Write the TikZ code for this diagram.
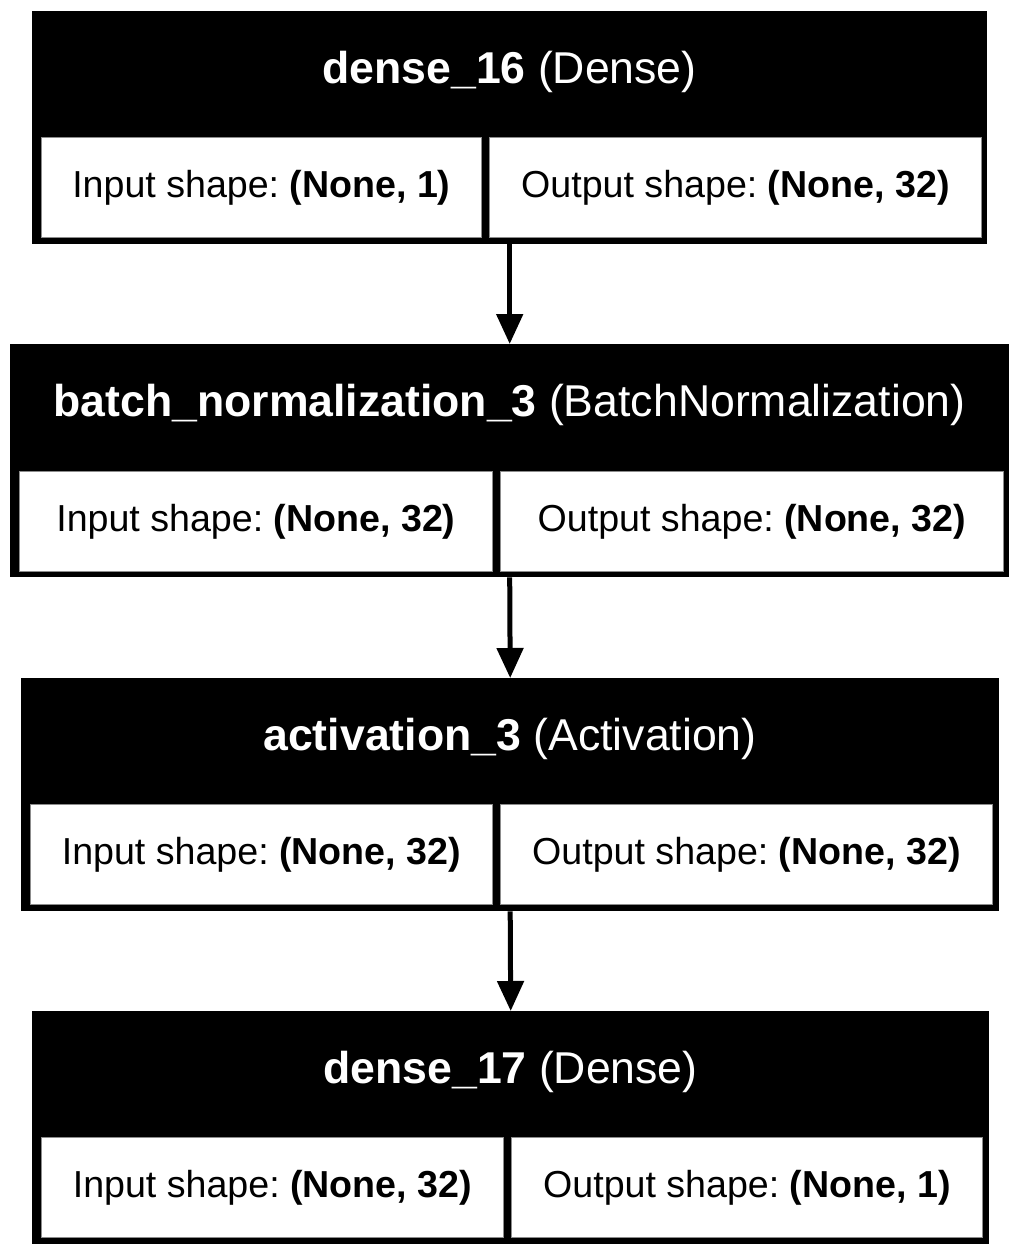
\documentclass[tikz,border=0pt]{standalone}
\usepackage{fontspec}
\setmainfont{Liberation Sans}
\usetikzlibrary{arrows.meta}
\frenchspacing
\newcommand{\layertitlefont}{\fontsize{44.6}{52}\selectfont}
\newcommand{\layercellfont}{\fontsize{37.6}{44}\selectfont}
\tikzset{
  layer/.style={rectangle, fill=black, draw=none, inner sep=0pt, anchor=north west},
  cell/.style={rectangle, fill=white, draw=black!45, line width=0.8pt, inner sep=0pt,
    anchor=north west, minimum height=100pt, font=\layercellfont},
  title/.style={text=white, anchor=base, inner sep=0pt, font=\layertitlefont},
  flow/.style={-{Triangle[length=30pt,width=26pt]}, line width=5pt}
}
\begin{document}
\begin{tikzpicture}[x=1pt, y=-1pt]
            \useasboundingbox (0,0) rectangle (1019,1256);
            % ---------- dense_16 ----------
            \node[layer, minimum width=955pt, minimum height=233pt] (dense16) at (32,11) {};
            \node[title] (dense16title) at (509.5,83) {\textbf{dense\_16} (Dense)};
            \node[cell, minimum width=440pt] (dense16in) at (41,137)
                {Input shape: \textbf{(None, 1)}};
            \node[cell, minimum width=492pt] (dense16out) at (489,137)
                {Output shape: \textbf{(None, 32)}};
            % ---------- batch_normalization_3 ----------
            \node[layer, minimum width=999pt, minimum height=233pt] (batchnorm3) at (10,344) {};
            \node[title] (batchnorm3title) at (509.5,416)
                {\textbf{batch\_normalization\_3} (BatchNormalization)};
            \node[cell, minimum width=473pt] (batchnorm3in) at (19,471)
                {Input shape: \textbf{(None, 32)}};
            \node[cell, minimum width=503pt] (batchnorm3out) at (500,471)
                {Output shape: \textbf{(None, 32)}};
            % ---------- activation_3 ----------
            \node[layer, minimum width=978pt, minimum height=233pt] (activation3) at (21,678) {};
            \node[title] (activation3title) at (510,750) {\textbf{activation\_3} (Activation)};
            \node[cell, minimum width=462pt] (activation3in) at (30,804)
                {Input shape: \textbf{(None, 32)}};
            \node[cell, minimum width=492pt] (activation3out) at (500,804)
                {Output shape: \textbf{(None, 32)}};
            % ---------- dense_17 ----------
            \node[layer, minimum width=957pt, minimum height=233pt] (dense17) at (32,1011) {};
            \node[title] (dense17title) at (510.5,1083) {\textbf{dense\_17} (Dense)};
            \node[cell, minimum width=462pt] (dense17in) at (41,1137)
                {Input shape: \textbf{(None, 32)}};
            \node[cell, minimum width=471pt] (dense17out) at (511,1137)
                {Output shape: \textbf{(None, 1)}};
            % ---------- arrows ----------
            \draw[flow] (dense16.south) -- (batchnorm3.north);
            \draw[flow] (batchnorm3.south) -- (activation3.north);
            \draw[flow] (activation3.south) -- (dense17.north);
\end{tikzpicture}
\end{document}
